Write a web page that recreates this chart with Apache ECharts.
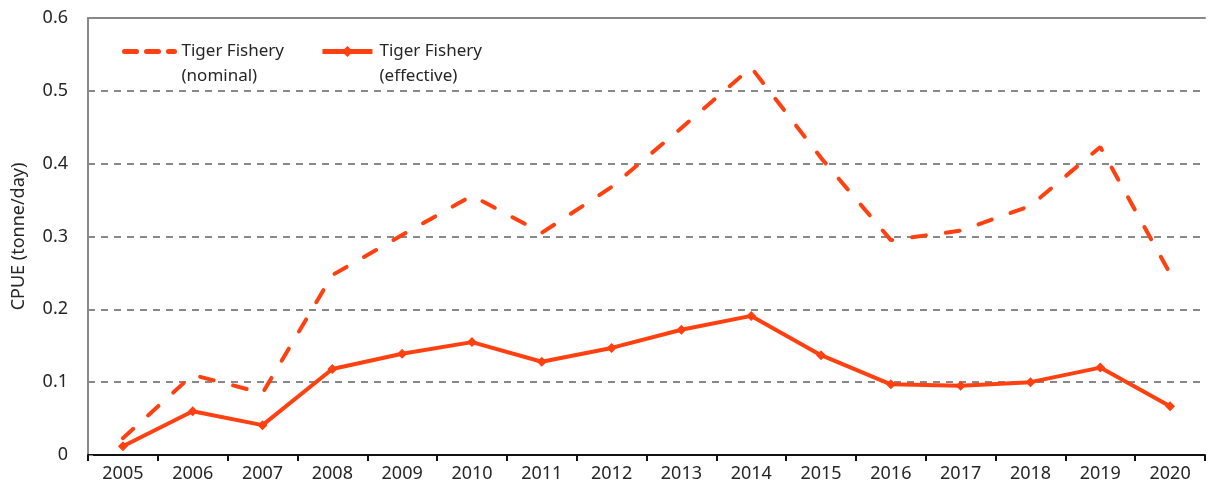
<!DOCTYPE html>
<html>
<head>
<meta charset="utf-8">
<script src="https://cdn.jsdelivr.net/npm/echarts@6/dist/echarts.min.js"></script>
<style>
  html, body { margin: 0; padding: 0; background: #fff; }
  #chart { width: 1212px; height: 493px; }
</style>
</head>
<body>
<div id="chart"></div>
<script>
// years on the x axis
var years = ['2005','2006','2007','2008','2009','2010','2011','2012','2013','2014','2015','2016','2017','2018','2019','2020']
// CPUE, tonne/day
var nominal = [0.023, 0.110, 0.085, 0.247, 0.302, 0.356, 0.305, 0.368, 0.449, 0.532, 0.408, 0.295, 0.308, 0.342, 0.423, 0.249]
var effective = [0.012, 0.060, 0.041, 0.118, 0.139, 0.155, 0.128, 0.147, 0.172, 0.191, 0.137, 0.097, 0.095, 0.100, 0.120, 0.067]
var seriesNames = ['Tiger Fishery\n(nominal)', 'Tiger Fishery\n(effective)']

var red = '#ff4010'
var font = 'Noto Sans'
var dash = [14, 20]

var chart = echarts.init(document.getElementById('chart'))
chart.setOption({
  animation: false,
  grid: { left: 88, right: 7, top: 18, bottom: 38, outerBoundsMode: 'none' },
  legend: {
    left: 117,
    top: 9,
    itemWidth: 50,
    itemHeight: 14,
    itemGap: 36,
    // blank first line so the icon sits next to the first text line
    formatter: function (n) { return ' \n' + n },
    textStyle: {
      fontFamily: font,
      fontSize: 17,
      color: '#262626',
      lineHeight: 25,
      padding: [0, 0, 0, 2]
    },
    data: [
      { name: seriesNames[0], itemStyle: { opacity: 0 }, lineStyle: { width: 5, type: [12, 10], cap: 'round' } },
      { name: seriesNames[1], lineStyle: { width: 5 } }
    ]
  },
  xAxis: [
    {
      type: 'category',
      data: years,
      boundaryGap: true,
      axisLine: { lineStyle: { color: '#111', width: 2 } },
      axisTick: { show: true, length: 6, lineStyle: { color: '#111', width: 2 } },
      axisLabel: { fontFamily: font, fontSize: 18, color: '#262626', margin: 10 }
    },
    {
      type: 'category',
      position: 'top',
      data: years,
      axisLine: { lineStyle: { color: '#888', width: 2 } },
      axisTick: { show: false },
      axisLabel: { show: false }
    }
  ],
  yAxis: {
    type: 'value',
    min: 0,
    max: 0.6,
    interval: 0.1,
    name: 'CPUE (tonne/day)',
    nameLocation: 'middle',
    nameGap: 60,
    nameTextStyle: { fontFamily: font, fontSize: 18, color: '#262626' },
    axisLine: { show: true, lineStyle: { color: '#888', width: 2 } },
    axisTick: { show: true, inside: true, length: 5, lineStyle: { color: '#888' } },
    axisLabel: {
      fontFamily: font, fontSize: 18, color: '#262626', margin: 20,
      formatter: function (v) { return v === 0 ? '0' : v.toFixed(1) }
    },
    splitLine: { show: true, lineStyle: { color: '#888', width: 2, type: [7, 6] } }
  },
  series: [
    {
      name: seriesNames[0],
      type: 'line',
      data: nominal,
      symbol: 'none',
      itemStyle: { color: red },
      lineStyle: { color: red, width: 4, type: dash, cap: 'round' }
    },
    {
      name: seriesNames[1],
      type: 'line',
      data: effective,
      symbol: 'diamond',
      symbolSize: 10,
      itemStyle: { color: red },
      lineStyle: { color: red, width: 4 }
    }
  ]
})
</script>
</body>
</html>
